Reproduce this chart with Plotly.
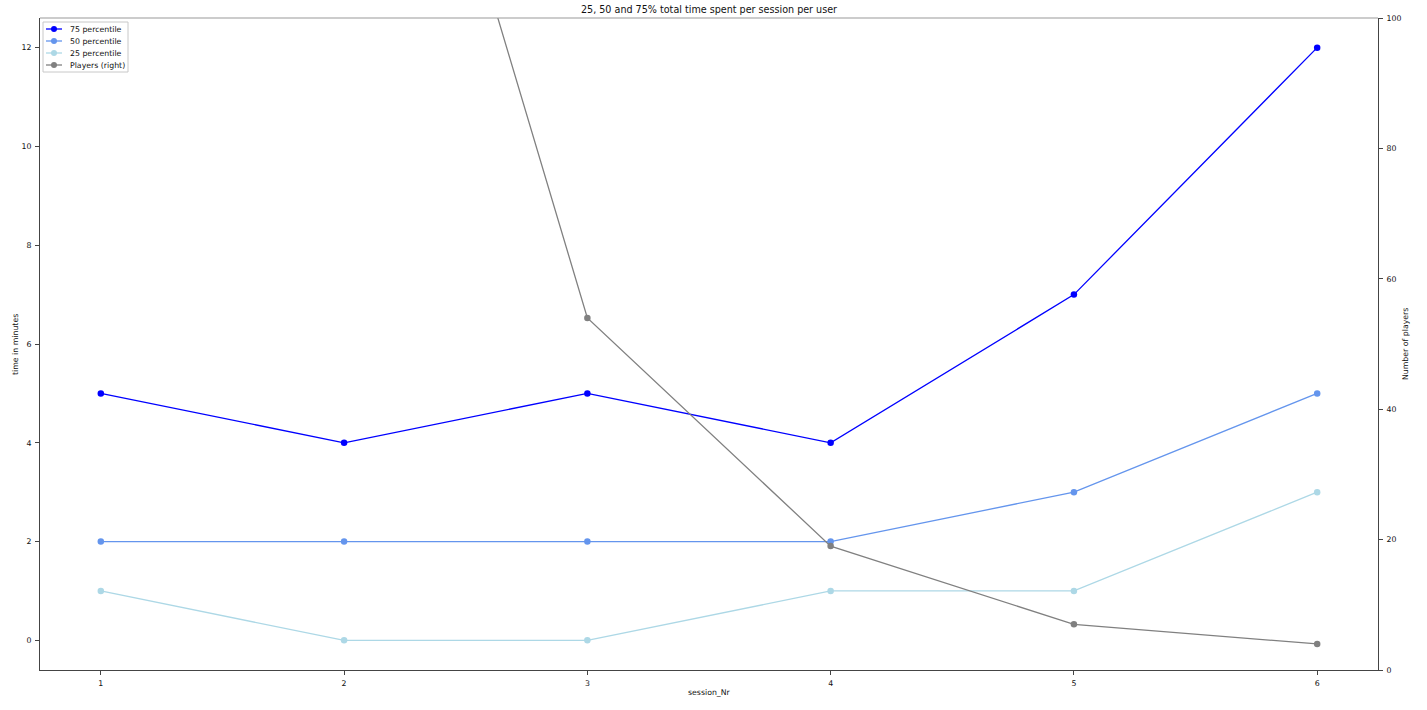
import plotly.graph_objects as go

sessions = [1, 2, 3, 4, 5, 6]
p75 = [5, 4, 5, 4, 7, 12]
p50 = [2, 2, 2, 2, 3, 5]
p25 = [1, 0, 0, 1, 1, 3]
players = [330, 179, 54, 19, 7, 4]

names = ["75 percentile", "50 percentile", "25 percentile", "Players (right)"]
colors = ["#0000ff", "#6495ed", "#add8e6", "#808080"]
series = [p75, p50, p25, players]
axes = ["y", "y", "y", "y2"]

FONT = "DejaVu Sans"
TXT = "#111"
FS = 7.8
W, H = 1427, 710
L, R, T, B = 40, 49, 18, 40
PW, PH = W - L - R, H - T - B

def px(xp):
    return (xp - L) / PW

def py(yp):
    return (H - B - yp) / PH

fig = go.Figure()
for y, name, color, axis in zip(series, names, colors, axes):
    fig.add_trace(go.Scatter(
        x=sessions, y=y, name=name, mode="lines+markers", yaxis=axis,
        line=dict(color=color, width=1.3), marker=dict(color=color, size=6.5),
        cliponaxis=True, showlegend=False))

axis_common = dict(showgrid=False, zeroline=False, showline=True, linecolor="#444",
                   linewidth=1, ticks="outside", ticklen=4, tickcolor="#444",
                   automargin=False, ticklabelstandoff=2,
                   tickfont=dict(family=FONT, size=FS, color=TXT))

shapes = []
annotations = []

# top spine
shapes.append(dict(type="line", xref="paper", yref="paper", x0=0, x1=1, y0=1, y1=1,
                   line=dict(color="#999", width=1), layer="above"))

# custom compact legend (matplotlib style)
shapes.append(dict(type="rect", xref="paper", yref="paper",
                   x0=px(43), x1=px(128), y0=py(72), y1=py(22),
                   line=dict(color="#c8c8c8", width=1),
                   fillcolor="rgba(255,255,255,0.8)", layer="above"))
for i, (name, color) in enumerate(zip(names, colors)):
    yc = py(29 + 12 * i)
    shapes.append(dict(type="line", xref="paper", yref="paper",
                       x0=px(46), x1=px(62), y0=yc, y1=yc,
                       line=dict(color=color, width=1.3), layer="above"))
    shapes.append(dict(type="circle", xref="paper", yref="paper",
                       xsizemode="pixel", ysizemode="pixel",
                       xanchor=px(54), yanchor=yc, x0=-3, x1=3, y0=-3, y1=3,
                       line=dict(color=color, width=0), fillcolor=color, layer="above"))
    annotations.append(dict(text=name, xref="paper", yref="paper", x=px(68), y=yc,
                            xanchor="left", yanchor="middle", showarrow=False,
                            font=dict(family=FONT, size=FS, color=TXT)))

# axis titles
annotations.append(dict(text="time in minutes", xref="paper", yref="paper",
                        x=px(15), y=py(345), textangle=-90, showarrow=False,
                        xanchor="center", yanchor="middle",
                        font=dict(family=FONT, size=FS, color=TXT)))
annotations.append(dict(text="Number of players", xref="paper", yref="paper",
                        x=px(1405), y=py(344), textangle=-90, showarrow=False,
                        xanchor="center", yanchor="middle",
                        font=dict(family=FONT, size=FS, color=TXT)))
annotations.append(dict(text="session_Nr", xref="paper", yref="paper",
                        x=px(709), y=py(692), showarrow=False,
                        xanchor="center", yanchor="middle",
                        font=dict(family=FONT, size=FS, color=TXT)))

fig.update_layout(
    width=W, height=H,
    margin=dict(l=L, r=R, t=T, b=B, autoexpand=False),
    paper_bgcolor="white", plot_bgcolor="white",
    font=dict(family=FONT, size=FS, color=TXT),
    title=dict(text="25, 50 and 75% total time spent per session per user",
               x=0.5, xref="paper", y=1 - 10 / H, yanchor="middle", automargin=False,
               font=dict(family=FONT, size=9.6, color=TXT)),
    xaxis=dict(range=[0.75, 6.25], tickvals=sessions, ticktext=[str(s) for s in sessions],
               mirror=False, **axis_common),
    yaxis=dict(range=[-0.6, 12.6], tickvals=[0, 2, 4, 6, 8, 10, 12], **axis_common),
    yaxis2=dict(range=[0, 100], overlaying="y", side="right", anchor="x",
                tickvals=[0, 20, 40, 60, 80, 100], **axis_common),
    shapes=shapes,
    annotations=annotations,
    showlegend=False,
)

fig.write_html("out.html", config={"displayModeBar": False},
               post_script="document.body.style.margin='0';document.body.style.overflow='hidden';")
